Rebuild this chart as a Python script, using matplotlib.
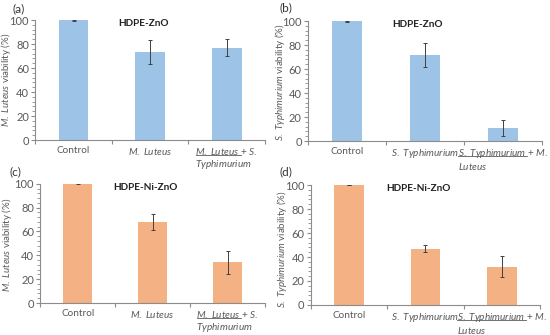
import matplotlib
matplotlib.use("Agg")
import matplotlib.pyplot as plt
from matplotlib.ticker import MultipleLocator, FixedLocator
from matplotlib.lines import Line2D

FONT = 'Lato'
plt.rcParams['font.family'] = [FONT, 'DejaVu Sans']
plt.rcParams['mathtext.fontset'] = 'custom'
plt.rcParams['mathtext.rm'] = FONT
plt.rcParams['mathtext.it'] = FONT + ':italic'
plt.rcParams['mathtext.bf'] = FONT + ':bold'

# data
ul_ml = r"$\it{M.\ Luteus}$"
ul_st = r"$\it{S.\ Typhimurium}$"
cats_ml = ["Control", r"$\it{M.\ Luteus}$", ul_ml + r" + $\it{S.}$" + "\n" + r"$\it{Typhimurium}$"]
cats_st = ["Control", r"$\it{S.\ Typhimurium}$", ul_st + r" + $\it{M.}$" + "\n" + r"$\it{Luteus}$"]
vals_a = [100, 73, 77]
err_a = [0.5, 10, 7]
vals_b = [100, 72, 11]
err_b = [0.5, 10, 6.5]
vals_c = [100, 68, 34]
err_c = [0.3, 7, 9.5]
vals_d = [100, 47, 32]
err_d = [0.3, 3, 8.5]
ylab_ml = r"$\it{M.\ Luteus}$ viability (%)"
ylab_st = r"$\it{S.\ Typhimurium}$ viability (%)"

BLUE = "#9DC3E6"
ORANGE = "#F4B183"
GRAY = "#595959"
SPINE = "#8C8C8C"
TICKFS = 7.2

fig = plt.figure(figsize=(5.5, 3.35), dpi=100)

# rect, categories, underlined part, values, errors, colour, ylabel, title, ylabel right edge (px), ylabel y
panels = [
    ([0.064, 0.582, 0.418, 0.358], cats_ml, ul_ml, vals_a, err_a, BLUE, ylab_ml, "HDPE-ZnO", 13, 0.5),
    ([0.560, 0.579, 0.425, 0.358], cats_st, ul_st, vals_b, err_b, BLUE, ylab_st, "HDPE-ZnO", 287, 0.49),
    ([0.073, 0.0955, 0.409, 0.356], cats_ml, ul_ml, vals_c, err_c, ORANGE, ylab_ml, "HDPE-Ni-ZnO", 14, 0.49),
    ([0.565, 0.0896, 0.417, 0.358], cats_st, ul_st, vals_d, err_d, ORANGE, ylab_st, "HDPE-Ni-ZnO", 289, 0.47),
]

axes_info = []
for rect, cats, ul, vals, errs, col, ylab, title, ylx, yly in panels:
    ax = fig.add_axes(rect)
    x = list(range(len(cats)))
    ax.bar(x, vals, width=0.39, color=col, zorder=2)
    ax.errorbar(x, vals, yerr=errs, fmt='none', ecolor='#404040', elinewidth=0.7,
                capsize=1.2, capthick=0.7, zorder=3)
    ax.set_xlim(-0.5, len(cats) - 0.5)
    ax.set_ylim(0, 100)
    ax.yaxis.set_major_locator(MultipleLocator(20))
    ax.yaxis.set_minor_locator(MultipleLocator(4))
    ax.set_xticks(x)
    ax.set_xticklabels(cats, fontsize=TICKFS, color=GRAY, linespacing=1.15)
    lab3 = ax.get_xticklabels()[2]
    lab3.set_multialignment('left')
    ax.xaxis.set_minor_locator(FixedLocator([-0.5, 0.5, 1.5, 2.5]))
    ax.tick_params(axis='x', which='major', length=0, pad=4)
    ax.tick_params(axis='x', which='minor', length=3, color=SPINE, direction='out', width=0.8)
    ax.tick_params(axis='y', which='major', length=3, color=SPINE, labelsize=8, labelcolor=GRAY, width=0.8, pad=1.5)
    ax.tick_params(axis='y', which='minor', length=2, color=SPINE, width=0.6)
    for s in ['top', 'right']:
        ax.spines[s].set_visible(False)
    for s in ['left', 'bottom']:
        ax.spines[s].set_color(SPINE)
        ax.spines[s].set_linewidth(0.8)
    ax.set_ylabel(ylab, fontsize=7.0, color=GRAY)
    ax.yaxis.set_label_coords((ylx / 550 - rect[0]) / rect[2], yly)
    ax.text(0.47, 0.97, title, transform=ax.transAxes, ha='center', va='center',
            fontsize=7.2, fontweight='bold', color='#222222')
    axes_info.append((ax, cats, ul))

fig.text(12/550, 1 - 9/335, "(a)", fontsize=8.5, color='#333333', ha='left', va='center')
fig.text(280/550, 1 - 8/335, "(b)", fontsize=8.5, color='#333333', ha='left', va='center')
fig.text(10/550, 1 - 172/335, "(c)", fontsize=8.5, color='#333333', ha='left', va='center')
fig.text(280/550, 1 - 172/335, "(d)", fontsize=8.5, color='#333333', ha='left', va='center')

# underline the first part of the third tick label
fig.canvas.draw()
renderer = fig.canvas.get_renderer()
fw, fh = fig.bbox.width, fig.bbox.height
for ax, cats, ul in axes_info:
    labels = ax.get_xticklabels()
    ctrl = labels[0].get_window_extent(renderer)
    bb = labels[2].get_window_extent(renderer)
    t2 = fig.text(0, 0, ul, fontsize=TICKFS)
    b2 = t2.get_window_extent(renderer)
    t2.remove()
    left = bb.x0 + 0.5
    y = ctrl.y0 - 0.5
    fig.add_artist(Line2D([left / fw, (left + b2.width) / fw], [y / fh, y / fh],
                          transform=fig.transFigure, color=GRAY, linewidth=0.6))

fig.savefig("out.png", dpi=100, facecolor='white')
